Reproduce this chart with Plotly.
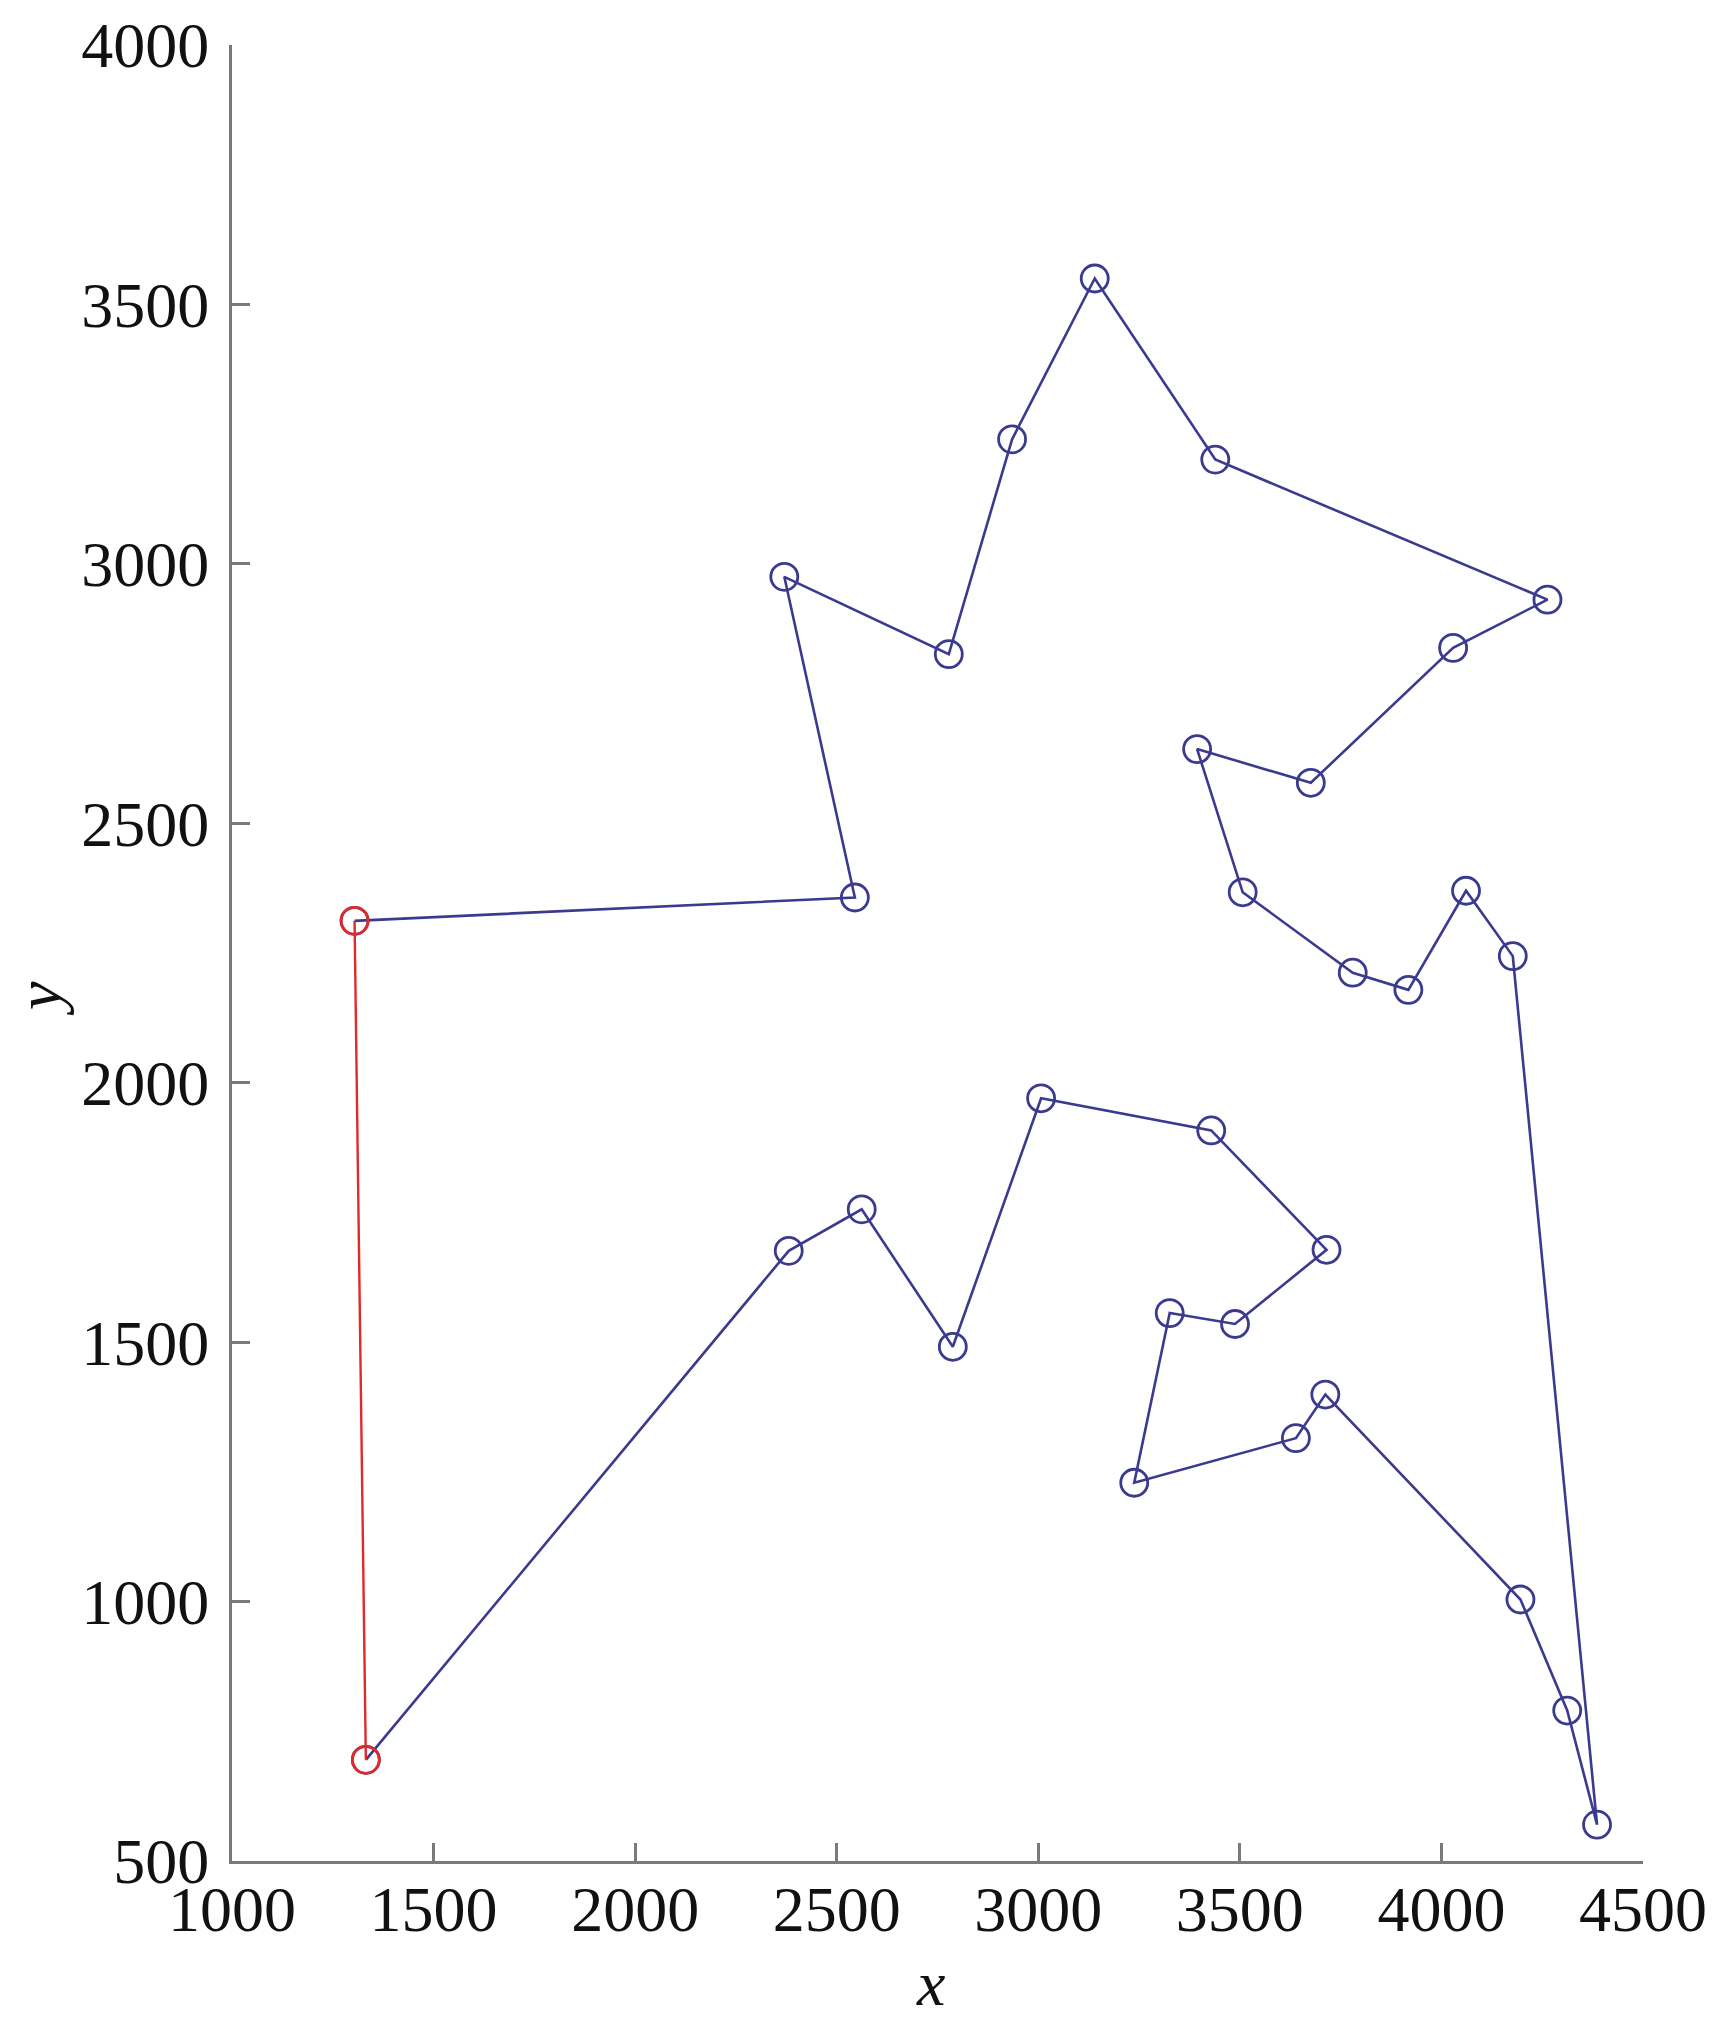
import plotly.graph_objects as go

# Route order (city coordinates) of the TSP tour
route_x = [1304, 1332, 2381, 2562, 2788, 3007, 3429, 3715, 3488, 3326, 3238, 3639, 3712,
           4196, 4312, 4386, 4177, 4061, 3918, 3780, 3507, 3394, 3676, 4029, 4263, 3439,
           3140, 2935, 2778, 2370, 2545]
route_y = [2312, 695, 1676, 1756, 1491, 1970, 1908, 1678, 1535, 1556, 1229, 1315, 1399,
           1004, 790, 570, 2244, 2370, 2179, 2212, 2367, 2643, 2578, 2838, 2931, 3201,
           3550, 3240, 2826, 2975, 2357]

x_ticks = [1000, 1500, 2000, 2500, 3000, 3500, 4000, 4500]
y_ticks = [500, 1000, 1500, 2000, 2500, 3000, 3500, 4000]

blue = "#3a3a8e"
red = "#e02a2a"

# blue path: from 2nd city through all others and back to the start
bx = route_x[1:] + [route_x[0]]
by = route_y[1:] + [route_y[0]]
# red segment: start -> second city
rx = route_x[:2]
ry = route_y[:2]

fig = go.Figure()
fig.add_trace(go.Scatter(
    x=bx, y=by, mode="lines+markers",
    line=dict(color=blue, width=2.6),
    marker=dict(symbol="circle-open", size=27, color=blue, line=dict(width=2.8, color=blue)),
    showlegend=False, cliponaxis=False))
fig.add_trace(go.Scatter(
    x=rx, y=ry, mode="lines+markers",
    line=dict(color=red, width=2.4),
    marker=dict(symbol="circle-open", size=27, color=red, line=dict(width=2.8, color=red)),
    showlegend=False, cliponaxis=False))

font_family = "Liberation Serif"
axis_common = dict(
    showline=True, linecolor="#7a7a7a", linewidth=3,
    ticks="inside", ticklen=18, tickwidth=3, tickcolor="#7a7a7a",
    showgrid=False, zeroline=False, mirror=False, automargin=False,
    tickfont=dict(family=font_family, size=64, color="#111111"),
)

fig.update_layout(
    width=1724, height=2020,
    margin=dict(l=232, r=81, t=45, b=159),
    paper_bgcolor="white", plot_bgcolor="white",
    xaxis=dict(range=[1000, 4500], tickvals=x_ticks, ticktext=[str(v) for v in x_ticks],
               ticklabelstandoff=-10, **axis_common),
    yaxis=dict(range=[500, 4000], tickvals=y_ticks, ticktext=[str(v) for v in y_ticks],
               ticklabelstandoff=7, **axis_common),
    annotations=[
        dict(text="<i>x</i>", xref="paper", yref="paper", x=0.4947, y=-0.0677,
             xanchor="center", yanchor="middle", showarrow=False,
             font=dict(family=font_family, size=64, color="#111111")),
        dict(text="<i>y</i>", xref="paper", yref="paper", x=-0.137, y=0.475,
             xanchor="center", yanchor="middle", showarrow=False, textangle=-90,
             font=dict(family=font_family, size=64, color="#111111")),
    ],
)

fig.write_html("out.html", config={"displayModeBar": False},
               post_script="document.body.style.margin='0';document.body.style.overflow='hidden';")
